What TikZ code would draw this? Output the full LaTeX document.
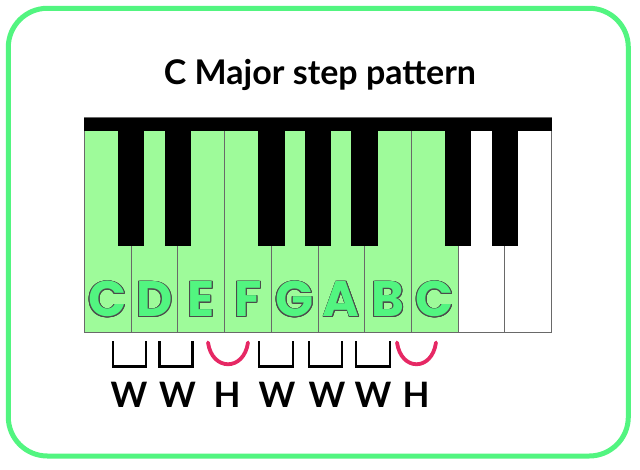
\documentclass[tikz,border=0pt]{standalone}
\usepackage{fontspec}
\setmainfont{Lato}
\newfontfamily\notefont{Poppins}
\usepackage{contour}
\contourlength{0.9pt}
\usetikzlibrary{positioning}
\definecolor{framegreen}{RGB}{82,245,128}
\definecolor{keygreen}{RGB}{158,251,154}
\definecolor{keygray}{RGB}{105,105,105}
\definecolor{outlinegray}{RGB}{75,75,75}
\definecolor{halfred}{RGB}{230,40,100}
\tikzset{wkey/.style={draw=keygray,line width=1pt,fill=white,minimum width=46.74pt,minimum height=215pt,inner sep=0pt,outer sep=0pt},
gkey/.style={wkey,fill=keygreen},
bkey/.style={fill=black,minimum width=26.5pt,minimum height=128pt,inner sep=0pt,anchor=north},
notename/.style={font=\notefont\bfseries\fontsize{50}{50}\selectfont,text=framegreen,inner sep=0pt,anchor=base},
heading/.style={font=\bfseries\fontsize{34}{34}\selectfont,anchor=base},
steplbl/.style={font=\bfseries\fontsize{35}{35}\selectfont,inner sep=0pt,anchor=base},
wstep/.style={line width=2.8pt,black},
hstep/.style={line width=3.8pt,halfred,line cap=round}}

\begin{document}
\begin{tikzpicture}[x=1pt,y=-1pt]
\useasboundingbox (0,0) rectangle (640,470);
\draw[framegreen,line width=5pt,rounded corners=39pt] (8.3,8.3) rectangle (628.3,456);

\node[heading] (title) at (320,85) {C Major step pattern};

% white keys
\node[gkey,anchor=north west] (k1) at (84.3,118) {};
\node[gkey,right=0pt of k1] (k2) {};
\node[gkey,right=0pt of k2] (k3) {};
\node[gkey,right=0pt of k3] (k4) {};
\node[gkey,right=0pt of k4] (k5) {};
\node[gkey,right=0pt of k5] (k6) {};
\node[gkey,right=0pt of k6] (k7) {};
\node[gkey,right=0pt of k7] (k8) {};
\node[wkey,right=0pt of k8] (k9) {};
\node[wkey,right=0pt of k9] (k10) {};

% black keys
\node[bkey] (cs1) at (k1.north east) {};
\node[bkey] (ds1) at (k2.north east) {};
\node[bkey] (fs1) at (k4.north east) {};
\node[bkey] (gs1) at (k5.north east) {};
\node[bkey] (as1) at (k6.north east) {};
\node[bkey] (cs2) at (k8.north east) {};
\node[bkey] (ds2) at (k9.north east) {};
\fill (k1.north west) rectangle ([yshift=-13pt]k10.north east);

% note names
\node[notename] (n1) at ([yshift=16pt]k1.south) {\contour{outlinegray}{C}};
\node[notename] (n2) at ([yshift=16pt]k2.south) {\contour{outlinegray}{D}};
\node[notename] (n3) at ([yshift=16pt]k3.south) {\contour{outlinegray}{E}};
\node[notename] (n4) at ([yshift=16pt]k4.south) {\contour{outlinegray}{F}};
\node[notename] (n5) at ([yshift=16pt]k5.south) {\contour{outlinegray}{G}};
\node[notename] (n6) at ([yshift=16pt]k6.south) {\contour{outlinegray}{A}};
\node[notename] (n7) at ([yshift=16pt]k7.south) {\contour{outlinegray}{B}};
\node[notename] (n8) at ([yshift=16pt]k8.south) {\contour{outlinegray}{C}};

% steps
\node[steplbl] (s1) at (129,407) {W};
\node[steplbl] (s2) at (177.5,407) {W};
\node[steplbl] (s3) at (227,407) {H};
\node[steplbl] (s4) at (277,407) {W};
\node[steplbl] (s5) at (327,407) {W};
\node[steplbl] (s6) at (373,407) {W};
\node[steplbl] (s7) at (416,407) {H};

\draw[wstep] ([shift={(-16pt,40pt)}]s1.north) -- ++(0,25) -- ++(33,0) -- ++(0,-25);
\draw[wstep] ([shift={(-18pt,40pt)}]s2.north) -- ++(0,25) -- ++(33,0) -- ++(0,-25);
\draw[hstep] ([shift={(-19pt,39pt)}]s3.north) .. controls +(4,29) and +(-4,29) .. ([shift={(21pt,39pt)}]s3.north);
\draw[wstep] ([shift={(-18pt,40pt)}]s4.north) -- ++(0,25) -- ++(34,0) -- ++(0,-25);
\draw[wstep] ([shift={(-18pt,40pt)}]s5.north) -- ++(0,25) -- ++(33,0) -- ++(0,-25);
\draw[wstep] ([shift={(-17pt,40pt)}]s6.north) -- ++(0,25) -- ++(34,0) -- ++(0,-25);
\draw[hstep] ([shift={(-19pt,39pt)}]s7.north) .. controls +(4,29) and +(-4,29) .. ([shift={(20pt,39pt)}]s7.north);
\end{tikzpicture}
\end{document}
